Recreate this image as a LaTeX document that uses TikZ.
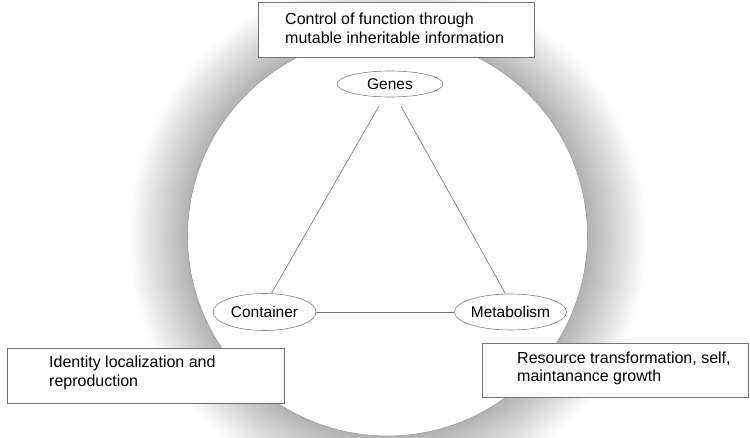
\documentclass[tikz,border=0pt]{standalone}
\usepackage{fontspec}
\setmainfont{Liberation Sans}
\usetikzlibrary{shapes.geometric,shadows}
\pgfdeclareradialshading{ringshadow}{\pgfpoint{0bp}{0bp}}{color(0bp)=(black!30); color(19.2bp)=(black!30); color(22bp)=(black!16); color(25bp)=(white); color(50bp)=(white)}
\begin{document}
\begin{tikzpicture}[x=1pt,y=-1pt,
  infobox/.style={draw=black!55, line width=0.7pt, fill=white, inner sep=0pt,
    drop shadow={shadow xshift=1pt, shadow yshift=-1pt, opacity=0.35}},
  infotext/.style={inner sep=0pt, anchor=base west, align=left,
    font=\fontsize{16}{18.5}\selectfont},
  oval/.style={ellipse, draw=black!50, line width=0.6pt, fill=white, inner sep=0pt,
    font=\fontsize{15.5}{18}\selectfont},
  link/.style={draw=black!55, line width=0.6pt}]
\useasboundingbox (0,0) rectangle (750,438);
\clip (0,0) rectangle (750,438);
% shadow ring and circle
\shade[shading=ringshadow] (387.5,236) circle[radius=260pt];
\draw[black!40, line width=0.6pt, fill=white] (387.5,236) circle[radius=200pt];
% ellipses
\node[oval, minimum width=106pt, minimum height=26pt] (genes) at (390,84) {Genes};
\node[oval, minimum width=103pt, minimum height=37pt] (container) at (264.5,312) {Container};
\node[oval, minimum width=103pt, minimum height=36pt] (metab) at (510.5,312) {Metabolism};
% connectors
\draw[link, shorten <=10pt] ([xshift=-6pt]genes.south) -- ([xshift=7pt]container.north);
\draw[link, shorten <=10pt] ([xshift=6pt]genes.south) -- ([xshift=-5pt]metab.north);
\draw[link] (container.east) -- (metab.west);
% boxes
\node[infobox, minimum width=276pt, minimum height=55pt] (topbox) at (396,29.5) {};
\node[infotext] (toptext) at (285,43.5) {Control of function through\\mutable inheritable information};
\node[infobox, minimum width=277pt, minimum height=55pt] (leftbox) at (145.5,375.5) {};
\node[infotext] (lefttext) at (49,386.5) {Identity localization and\\reproduction};
\node[infobox, minimum width=266pt, minimum height=54pt] (rightbox) at (615,370) {};
\node[infotext] (righttext) at (517,381.5) {Resource transformation, self,\\maintanance growth};
\end{tikzpicture}
\end{document}
